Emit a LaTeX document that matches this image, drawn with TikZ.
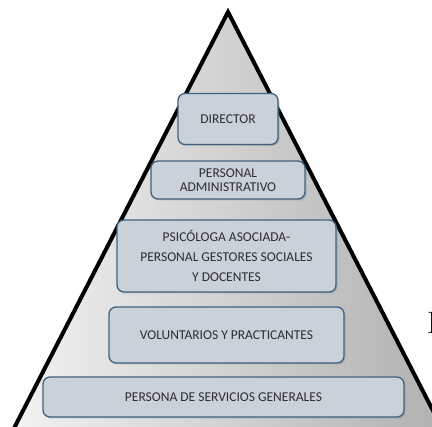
\documentclass[tikz,border=0pt]{standalone}
\usepackage{fontspec}
\setsansfont{Carlito}
\usetikzlibrary{positioning}
\usetikzlibrary{shadows}
\definecolor{boxfill}{HTML}{CAD1D9}
\definecolor{boxline}{HTML}{41627F}
\definecolor{boxtext}{HTML}{2E2E2E}
\tikzset{
	nivel/.style={
		rectangle,
		rounded corners=7pt,
		fill=boxfill,
		draw=boxline, line width=1.3pt,
		text=boxtext,
		font=\sffamily\fontsize{13.5}{14}\selectfont,
		align=center,
		inner sep=0pt,
		drop shadow={opacity=0.35, shadow xshift=1.5pt, shadow yshift=-1.5pt}},
	piramide/.style={
		draw=black, line width=4pt,
		left color=gray!10, right color=gray!62},
}
\begin{document}
\begin{tikzpicture}
			[x=1pt, y=-1pt]
			\useasboundingbox (0,0) rectangle (432,427);
			% the pyramid itself
			\coordinate (cima) at (228,12);
			\coordinate (izq) at (10,436);
			\coordinate (der) at (446,436);
			\path[piramide] (izq) -- (cima) -- (der) -- cycle;
			
			% levels, top to bottom
			\node[nivel, minimum width=100pt, minimum height=51pt] (director) at (228,119) {DIRECTOR};
			\node[nivel, minimum width=154pt, minimum height=38pt] (admin) at (228,180) {PERSONAL\\ADMINISTRATIVO};
			\node[nivel, minimum width=219pt, minimum height=72pt,
				font=\sffamily\fontsize{13.5}{20}\selectfont] (psico) at (226.5,256) {PSICÓLOGA ASOCIADA-\\PERSONAL GESTORES SOCIALES\\Y DOCENTES};
			\node[nivel, minimum width=235pt, minimum height=56pt] (volunt) at (226.5,335) {VOLUNTARIOS Y PRACTICANTES};
			\node[nivel, minimum width=361pt, minimum height=40pt] (servicios) at (223.5,397) {PERSONA DE SERVICIOS GENERALES};
			
			% cut-off letter at the page edge
			\node[font=\fontsize{31}{31}\selectfont, anchor=base west, inner sep=0pt] (corte) at (427,334) {I};
\end{tikzpicture}
\end{document}
